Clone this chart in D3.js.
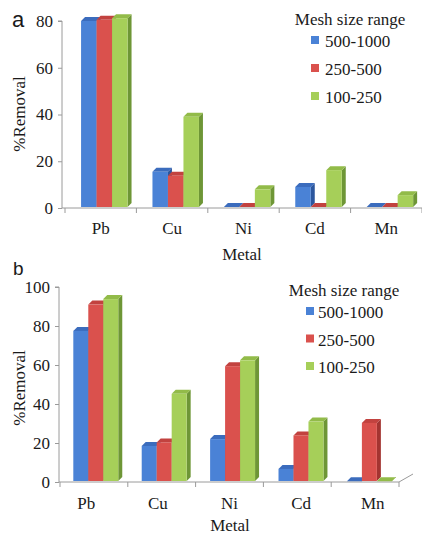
<!DOCTYPE html>
<html>
<head>
<meta charset="utf-8">
<script src="https://cdn.jsdelivr.net/npm/d3@7"></script>
<style>
  html, body { margin: 0; padding: 0; background: #fff; }
  svg { display: block; }
</style>
</head>
<body>
<svg id="chart" width="422" height="534"></svg>
<script>
// ---- data ----
const metals = ["Pb", "Cu", "Ni", "Cd", "Mn"];
const meshRanges = ["500-1000", "250-500", "100-250"];

const removalA_500_1000 = [80.0, 15.5, 0.4, 9.0, 0.4];
const removalA_250_500  = [80.5, 13.8, 0.4, 0.4, 0.4];
const removalA_100_250  = [81.2, 39.0, 8.0, 16.2, 5.5];

const removalB_500_1000 = [77.5, 18.5, 22.0, 6.7, 0.4];
const removalB_250_500  = [91.0, 20.3, 59.4, 23.9, 30.3];
const removalB_100_250  = [93.8, 45.2, 62.4, 31.0, 0.4];

const yTicksA = [0, 20, 40, 60, 80];
const yTicksB = [0, 20, 40, 60, 80, 100];

const legendTitle = "Mesh size range";
const xTitle = "Metal";
const yTitle = "%Removal";

// ---- styles ----
const SERIF = "'Liberation Serif', 'Times New Roman', serif";
const SANS = "'Liberation Sans', Arial, sans-serif";
const TXT = "#1a1a1a";
const faceColors = [
  { front: "#4a82d6", top: "#3b6cbd", side: "#2c579e" },
  { front: "#da514d", top: "#c2423f", side: "#a33431" },
  { front: "#a6cf59", top: "#92bb49", side: "#6e9636" }
];

const svg = d3.select("#chart");

function serifText(sel, size) {
  return sel.style("font-family", SERIF).style("font-size", size + "px").style("fill", TXT);
}

function drawPanel(cfg) {
  const g = svg.append("g");
  const series = cfg.series;
  const y = d3.scaleLinear().domain(cfg.yDomain).range([cfg.y0, cfg.y1]);
  const x = d3.scaleBand().domain(metals).range([cfg.x0, cfg.x1]).paddingInner(0).paddingOuter(0);
  const bw = x.bandwidth() * cfg.barFrac;
  const off = x.bandwidth() * cfg.offFrac;
  const dx = 4, dy = 4;

  // y axis
  const yAxis = d3.axisLeft(y).tickValues(cfg.yTicks).tickSize(4).tickPadding(5).tickFormat(d3.format("d"));
  const ya = g.append("g").attr("transform", `translate(${cfg.axisX},0)`).call(yAxis);
  ya.attr("font-family", null).attr("font-size", null);
  ya.select(".domain").attr("stroke", "#9a9a9a").attr("d", `M-4,${y(cfg.yDomain[1])}H0V${y(0)}`);
  ya.selectAll(".tick line").attr("stroke", "#9a9a9a");
  serifText(ya.selectAll(".tick text"), 17);

  // x axis
  const xa = g.append("g").attr("transform", `translate(0,${y(0)})`);
  xa.append("line").attr("x1", cfg.axisX).attr("x2", cfg.x1).attr("y1", 0).attr("y2", 0).attr("stroke", "#9a9a9a");
  const bounds = metals.map(m => x(m)).concat([cfg.x1]);
  xa.selectAll("line.tk").data(bounds).join("line").attr("class", "tk")
    .attr("x1", d => d).attr("x2", d => d).attr("y1", 0).attr("y2", 5).attr("stroke", "#9a9a9a");
  if (cfg.floorDiag) {
    xa.append("line").attr("x1", cfg.x1).attr("y1", 0).attr("x2", cfg.x1 + 14).attr("y2", -8).attr("stroke", "#9a9a9a");
  }
  serifText(xa.selectAll("text.xl").data(metals).join("text").attr("class", "xl")
    .attr("x", (d, i) => x(d) + x.bandwidth() / 2 + (i - 2) * cfg.labelSpread)
    .attr("y", cfg.xLabelY - y(0))
    .attr("text-anchor", "middle").text(d => d), 17);

  // bars
  metals.forEach((m, i) => {
    series.forEach((vals, s) => {
      const v = vals[i];
      const bx = x(m) + off + s * bw + (i - 2) * cfg.barSpread;
      const top = y(v), bot = y(0) - 1;
      const c = faceColors[s];
      g.append("path").attr("fill", c.side)
        .attr("d", `M${bx + bw},${bot}L${bx + bw + dx},${bot - dy}L${bx + bw + dx},${top - dy}L${bx + bw},${top}Z`);
      g.append("path").attr("fill", c.top)
        .attr("d", `M${bx},${top}L${bx + dx},${top - dy}L${bx + bw + dx},${top - dy}L${bx + bw},${top}Z`);
      g.append("rect").attr("fill", c.front)
        .attr("x", bx).attr("y", top).attr("width", bw).attr("height", Math.max(0, bot - top));
    });
  });

  // axis titles
  serifText(g.append("text").attr("transform", `translate(${cfg.yTitleX},${cfg.yTitleY}) rotate(-90)`)
    .attr("text-anchor", "middle").text(yTitle), 17);
  serifText(g.append("text").attr("x", cfg.xTitleX).attr("y", cfg.xTitleY)
    .attr("text-anchor", "middle").text(xTitle), 17);

  // panel letter
  g.append("text").attr("x", cfg.letterX).attr("y", cfg.letterY)
    .style("font-family", SANS).style("font-size", cfg.letterSize + "px").style("fill", TXT)
    .text(cfg.letter);

  // legend
  const lg = g.append("g");
  serifText(lg.append("text").attr("x", cfg.legTitleX).attr("y", cfg.legTitleY).attr("text-anchor", "middle")
    .text(legendTitle), 17);
  meshRanges.forEach((r, s) => {
    const by = cfg.legY0 + s * cfg.legStep;
    lg.append("rect").attr("x", cfg.legSqX).attr("y", by - 11).attr("width", 8).attr("height", 8)
      .attr("fill", faceColors[s].front);
    serifText(lg.append("text").attr("x", cfg.legTextX).attr("y", by).text(r), 17);
  });
}

drawPanel({
  series: [removalA_500_1000, removalA_250_500, removalA_100_250],
  yDomain: [0, 80], yTicks: yTicksA, y0: 208, y1: 21,
  x0: 65, x1: 422, axisX: 62, barFrac: 0.217, offFrac: 0.225, barSpread: 0, labelSpread: 0,
  xLabelY: 234, xTitleX: 242, xTitleY: 260,
  yTitleX: 25, yTitleY: 114,
  letter: "a", letterX: 12, letterY: 27, letterSize: 22,
  legTitleX: 350, legTitleY: 25, legSqX: 311, legTextX: 325, legY0: 47, legStep: 28,
  floorDiag: false
});

drawPanel({
  series: [removalB_500_1000, removalB_250_500, removalB_100_250],
  yDomain: [0, 100], yTicks: yTicksB, y0: 482, y1: 287,
  x0: 60, x1: 399, axisX: 59, barFrac: 0.221, offFrac: 0.214, barSpread: 0.6, labelSpread: 3.8,
  xLabelY: 509, xTitleX: 230, xTitleY: 531,
  yTitleX: 25, yTitleY: 388,
  letter: "b", letterX: 13, letterY: 275, letterSize: 19,
  legTitleX: 344, legTitleY: 296, legSqX: 306, legTextX: 318, legY0: 318, legStep: 27.5,
  floorDiag: true
});
</script>
</body>
</html>
